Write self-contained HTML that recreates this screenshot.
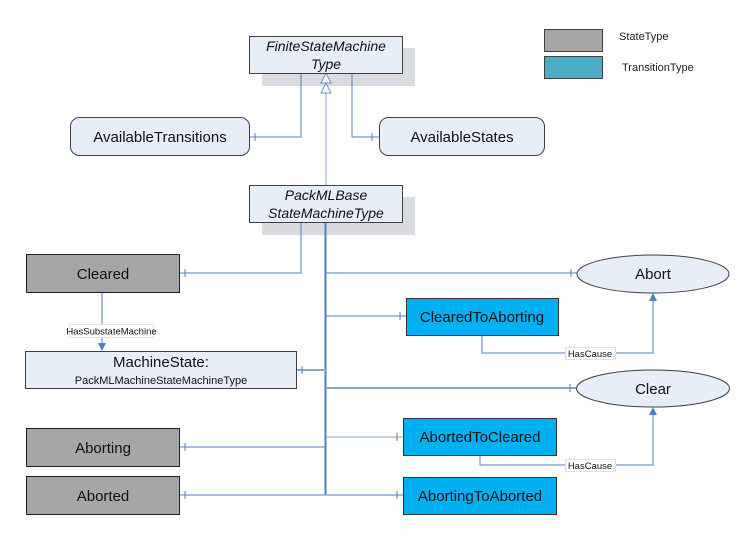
<!DOCTYPE html>
<html><head><meta charset="utf-8"><style>
html,body{margin:0;padding:0;background:#fff;}
svg{display:block;font-family:"Liberation Sans",Arial,sans-serif;}
</style></head><body>
<svg width="756" height="540" viewBox="0 0 756 540" xmlns="http://www.w3.org/2000/svg">
<rect width="756" height="540" fill="#fff"/>
<!-- legend -->
<rect x="544.5" y="29.5" width="58" height="22" fill="#a6a6a6" stroke="#404040"/>
<rect x="544.5" y="56.5" width="58" height="22" fill="#4bacc6" stroke="#404040"/>
<text x="619" y="40" font-size="11" fill="#222">StateType</text>
<text x="622" y="71" font-size="11" fill="#222">TransitionType</text>

<!-- shadows -->
<rect x="262" y="48" width="153" height="38" fill="#d9dbe0"/>
<rect x="262" y="197" width="153" height="38" fill="#d9dbe0"/>

<!-- connectors -->
<g stroke="#4f7fc0" fill="none" stroke-width="1">
<path d="M301 73V137H250"/>
<path d="M352 73V137H379"/>
<path d="M326 185V93" stroke="#8aa6d0"/>
<path d="M301 222V273H179"/>
<path d="M325.5 222V495" stroke-width="2"/>
<path d="M326 273H577"/>
<path d="M326 316H406"/>
<path d="M297 370H326" stroke="#8aa6d0" stroke-width="2"/>
<path d="M326 388H576" stroke="#8aa6d0" stroke-width="2"/>
<path d="M326 437H403" stroke="#8aa6d0"/>
<path d="M179 447H326"/>
<path d="M179 495H403"/>
<path d="M102 292V345"/>
<path d="M482 336V353H653V300"/>
<path d="M480 456V465H653V414"/>
<!-- ticks -->
<path d="M255 133V141M372 133V141M185 269V277M571 269V277M400 312V320M302 366V374M570 384V392M397 433V441M185 443V451M185 491V499M397 491V499"/>
</g>
<!-- generalization triangles -->
<g fill="#fff" stroke="#6b8fc6">
<path d="M326 73L321 83H331Z"/>
<path d="M326 83L321 93H331Z"/>
</g>
<!-- arrows -->
<g fill="#4f7fc0">
<path d="M102 351L98 343H106Z"/>
<path d="M653 293L649 301H657Z"/>
<path d="M653 407L649 415H657Z"/>
</g>

<!-- nodes -->
<rect x="249.5" y="36.5" width="153" height="37" fill="#e8eef8" stroke="#404040"/>
<text x="326" y="51" font-size="14" font-style="italic" text-anchor="middle" fill="#111">FiniteStateMachine</text>
<text x="326" y="69" font-size="14" font-style="italic" text-anchor="middle" fill="#111">Type</text>
<rect x="249.5" y="185.5" width="153" height="37" fill="#e8eef8" stroke="#404040"/>
<text x="326" y="200" font-size="14" font-style="italic" text-anchor="middle" fill="#111">PackMLBase</text>
<text x="326" y="218" font-size="14" font-style="italic" text-anchor="middle" fill="#111">StateMachineType</text>

<rect x="70.5" y="117.5" width="179" height="38" rx="9" fill="#e8eef8" stroke="#404040"/>
<text x="160" y="142" font-size="15" text-anchor="middle" fill="#111">AvailableTransitions</text>
<rect x="379.5" y="117.5" width="165" height="38" rx="9" fill="#e8eef8" stroke="#404040"/>
<text x="462" y="142" font-size="15" text-anchor="middle" fill="#111">AvailableStates</text>

<rect x="26.5" y="254.5" width="153" height="38" fill="#a6a6a6" stroke="#222"/>
<text x="103" y="279" font-size="15" text-anchor="middle" fill="#111">Cleared</text>
<rect x="25.5" y="351.5" width="271" height="37" fill="#e8eef8" stroke="#404040"/>
<text x="161" y="367" font-size="15" text-anchor="middle" fill="#111">MachineState:</text>
<text x="161" y="384" font-size="11" text-anchor="middle" fill="#111">PackMLMachineStateMachineType</text>
<rect x="26.5" y="428.5" width="153" height="38" fill="#a6a6a6" stroke="#222"/>
<text x="103" y="453" font-size="15" text-anchor="middle" fill="#111">Aborting</text>
<rect x="26.5" y="476.5" width="153" height="38" fill="#a6a6a6" stroke="#222"/>
<text x="103" y="501" font-size="15" text-anchor="middle" fill="#111">Aborted</text>

<rect x="69.5" y="324.5" width="84" height="13" fill="#fff" stroke="#e0e0e0"/>
<text x="111.5" y="334.5" font-size="9.5" text-anchor="middle" fill="#111">HasSubstateMachine</text>

<ellipse cx="653" cy="274" rx="76" ry="19" fill="#e8eef8" stroke="#404040"/>
<text x="653" y="279" font-size="15" text-anchor="middle" fill="#111">Abort</text>
<ellipse cx="653" cy="388.5" rx="76.5" ry="18.5" fill="#e8eef8" stroke="#404040"/>
<text x="653" y="394" font-size="15" text-anchor="middle" fill="#111">Clear</text>

<rect x="406.5" y="298.5" width="152" height="37" fill="#00b0f0" stroke="#333"/>
<text x="482" y="322" font-size="15" text-anchor="middle" fill="#111">ClearedToAborting</text>
<rect x="403.5" y="418.5" width="153" height="37" fill="#00b0f0" stroke="#333"/>
<text x="480" y="442" font-size="15" text-anchor="middle" fill="#111">AbortedToCleared</text>
<rect x="403.5" y="477.5" width="153" height="37" fill="#00b0f0" stroke="#333"/>
<text x="480" y="501" font-size="15" text-anchor="middle" fill="#111">AbortingToAborted</text>

<rect x="565.5" y="347.5" width="50" height="12" fill="#fff" stroke="#e0e0e0"/>
<text x="590" y="357" font-size="9.5" text-anchor="middle" fill="#111">HasCause</text>
<rect x="565.5" y="459.5" width="50" height="12" fill="#fff" stroke="#e0e0e0"/>
<text x="590" y="469" font-size="9.5" text-anchor="middle" fill="#111">HasCause</text>
</svg>
</body></html>
